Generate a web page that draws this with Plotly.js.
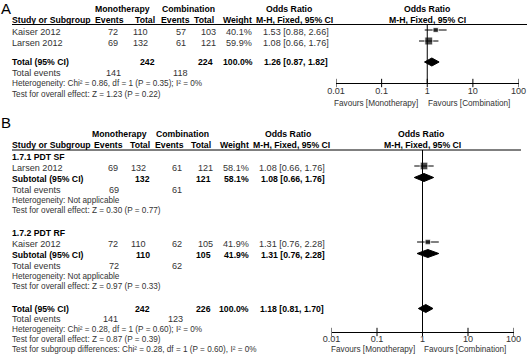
<!DOCTYPE html>
<html><head><meta charset="utf-8">
<script src="https://cdn.plot.ly/plotly-3.0.1.min.js"></script>
<style>html,body{margin:0;padding:0;background:#fff}#chart{width:529px;height:363px}</style>
</head><body><div id="chart"></div>
<script>
// ---------- data: panel A ----------
const studiesA = ['Kaiser 2012', 'Larsen 2012'];
const monoEventsA = [72, 69];
const monoTotalA = [110, 132];
const combEventsA = [57, 61];
const combTotalA = [103, 121];
const weightA = [40.1, 59.9];
const orA = [1.53, 1.08];
const ciLowA = [0.88, 0.66];
const ciHighA = [2.66, 1.76];
const totalNA = [242, 224];
const totalEventsA = [141, 118];
const pooledA = [1.26, 0.87, 1.82];      // OR, low, high
const statsA = ['Heterogeneity: Chi² = 0.86, df = 1 (P = 0.35); I² = 0%', 'Test for overall effect: Z = 1.23 (P = 0.22)'];

// ---------- data: panel B ----------
const subgroupsB = ['1.7.1 PDT SF', '1.7.2 PDT RF'];
const studiesB = ['Larsen 2012', 'Kaiser 2012'];
const monoEventsB = [69, 72];
const monoTotalB = [132, 110];
const combEventsB = [61, 62];
const combTotalB = [121, 105];
const weightB = [58.1, 41.9];
const orB = [1.08, 1.31];
const ciLowB = [0.66, 0.76];
const ciHighB = [1.76, 2.28];
const subOrB = [1.08, 1.31];
const subLowB = [0.66, 0.76];
const subHighB = [1.76, 2.28];
const subHetB = ['Heterogeneity: Not applicable', 'Heterogeneity: Not applicable'];
const subTestB = ['Test for overall effect: Z = 0.30 (P = 0.77)', 'Test for overall effect: Z = 0.97 (P = 0.33)'];
const totalNB = [242, 226];
const totalEventsB = [141, 123];
const pooledB = [1.18, 0.81, 1.70];
const statsB = ['Heterogeneity: Chi² = 0.28, df = 1 (P = 0.60); I² = 0%', 'Test for overall effect: Z = 0.87 (P = 0.39)', 'Test for subgroup differences: Chi² = 0.28, df = 1 (P = 0.60), I² = 0%'];

// ---------- axis ticks ----------
const tickVals = [0.01, 0.1, 1, 10, 100];
const tickLabels = ['0.01', '0.1', '1', '10', '100'];
const favourLabels = ['Favours [Monotherapy]', 'Favours [Combination]'];

// ---------- layout helpers ----------
const W = 529, H = 363;
const FONT = 'Liberation Sans, Arial, sans-serif';
const REG = 9.1, BOLD = 8.7, STAT = 8.2;
const ann = [];
function t(s, x, y, anchor, bold, size, color) {
  ann.push({text: bold ? '<b>' + s + '</b>' : s, xref: 'paper', yref: 'y', x: x / W, y: y,
    xanchor: anchor, yanchor: 'middle', showarrow: false, borderpad: 0, borderwidth: 0,
    font: {family: FONT, size: size || (bold ? BOLD : REG), color: color || (bold ? '#000' : '#333')}});
}
const f2 = v => v.toFixed(2);
const ci = (o, l, h) => f2(o) + ' [' + f2(l) + ', ' + f2(h) + ']';
const pct = w => w.toFixed(1) + '%';

const traces = [];
const shapes = [];
function hline(x0, x1, y) {
  shapes.push({type: 'line', xref: 'paper', yref: 'y', x0: x0 / W, x1: x1 / W, y0: y, y1: y, line: {color: '#000', width: 1}});
}
function studyMarks(xa, ors, lo, hi, w, ys) {
  traces.push({type: 'scatter', mode: 'markers', xaxis: xa, yaxis: 'y', x: ors, y: ys,
    marker: {symbol: 'square', color: '#000', size: w.map(v => v / 7.5)},
    error_x: {type: 'data', symmetric: false, array: ors.map((o, i) => hi[i] - o), arrayminus: ors.map((o, i) => o - lo[i]),
      width: 0, thickness: 1, color: '#000'}});
}
function diamond(xa, o, l, h, y) {
  traces.push({type: 'scatter', mode: 'lines', xaxis: xa, yaxis: 'y', x: [l, o, h, o, l], y: [y, y - 4, y, y + 4, y],
    fill: 'toself', fillcolor: '#000', line: {color: '#000', width: 1}});
}
function forestFrame(xa, yTop, yAxis, yLab) {
  traces.push({type: 'scatter', mode: 'lines', xaxis: xa, yaxis: 'y', x: [1, 1], y: [yTop, yAxis], line: {color: '#000', width: 1}});
  traces.push({type: 'scatter', mode: 'markers', xaxis: xa, yaxis: 'y', x: tickVals, y: tickVals.map(() => yAxis),
    marker: {symbol: 'line-ns', size: 6, line: {color: '#000', width: 1}}});
  traces.push({type: 'scatter', mode: 'text', xaxis: xa, yaxis: 'y', x: tickVals, y: tickVals.map(() => yLab),
    text: tickLabels, textposition: 'middle center', textfont: {family: FONT, size: REG, color: '#333'}, cliponaxis: false});
}

// ================= Panel A =================
t('A', 1, 8, 'left', false, 15, '#000');
t('Monotherapy', 122, 9, 'center', true);
t('Combination', 188, 9, 'center', true);
t('Odds Ratio', 289, 9, 'center', true);
t('Odds Ratio', 427, 9, 'center', true);
t('Study or Subgroup', 12, 20, 'left', true);
t('Events', 124, 20, 'right', true);
t('Total', 155, 20, 'right', true);
t('Events', 190, 20, 'right', true);
t('Total', 214, 20, 'right', true);
t('Weight', 252, 20, 'right', true);
t('M-H, Fixed, 95% CI', 294, 20, 'center', true);
t('M-H, Fixed, 95% CI', 427, 20, 'center', true);
hline(12, 527, 24.5);

const rowsA = [32, 43];
studiesA.forEach((s, i) => {
  const y = rowsA[i];
  t(s, 12, y, 'left');
  t(String(monoEventsA[i]), 118, y, 'right');
  t(String(monoTotalA[i]), 148, y, 'right');
  t(String(combEventsA[i]), 186, y, 'right');
  t(String(combTotalA[i]), 216, y, 'right');
  t(pct(weightA[i]), 252, y, 'right');
  t(ci(orA[i], ciLowA[i], ciHighA[i]), 329, y, 'right');
});
studyMarks('x', orA, ciLowA, ciHighA, weightA, rowsA.map(y => y - 2));
t('Total (95% CI)', 12, 62, 'left', true);
t(String(totalNA[0]), 155, 62, 'right', true);
t(String(totalNA[1]), 213, 62, 'right', true);
t(pct(100), 253, 62, 'right', true);
t(ci(pooledA[0], pooledA[1], pooledA[2]), 328, 62, 'right', true);
diamond('x', pooledA[0], pooledA[1], pooledA[2], 62);
t('Total events', 12, 73, 'left');
t(String(totalEventsA[0]), 113, 73, 'center');
t(String(totalEventsA[1]), 180, 73, 'center');
t(statsA[0], 12, 83.5, 'left', false, STAT);
t(statsA[1], 12, 94, 'left', false, STAT);
forestFrame('x', 24.5, 83, 92);
t(favourLabels[0], 418, 103, 'right', false, STAT);
t(favourLabels[1], 428, 103, 'left', false, STAT);

// ================= Panel B =================
t('B', 1, 122, 'left', false, 15, '#000');
t('Monotherapy', 119, 134, 'center', true);
t('Combination', 182, 134, 'center', true);
t('Odds Ratio', 288, 134, 'center', true);
t('Odds Ratio', 421, 134, 'center', true);
t('Study or Subgroup', 12, 145, 'left', true);
t('Events', 123, 145, 'right', true);
t('Total', 150, 145, 'right', true);
t('Events', 184, 145, 'right', true);
t('Total', 211, 145, 'right', true);
t('Weight', 249, 145, 'right', true);
t('M-H, Fixed, 95% CI', 291, 145, 'center', true);
t('M-H, Fixed, 95% CI', 422, 145, 'center', true);
hline(12, 521, 150);

const groupTopB = [157, 233];   // subgroup header rows
subgroupsB.forEach((g, i) => {
  const y0 = groupTopB[i];
  const ys = y0 + 11, ysub = y0 + 21.5, yev = y0 + 32.5, yhet = y0 + 43, ytest = y0 + 53.5;
  t(g, 12, y0, 'left', true);
  t(studiesB[i], 12, ys, 'left');
  t(String(monoEventsB[i]), 118, ys, 'right');
  t(String(monoTotalB[i]), 146, ys, 'right');
  t(String(combEventsB[i]), 182, ys, 'right');
  t(String(combTotalB[i]), 213, ys, 'right');
  t(pct(weightB[i]), 249, ys, 'right');
  t(ci(orB[i], ciLowB[i], ciHighB[i]), 325, ys, 'right');
  t('Subtotal (95% CI)', 12, ysub, 'left', true);
  t(String(monoTotalB[i]), 150, ysub, 'right', true);
  t(String(combTotalB[i]), 211, ysub, 'right', true);
  t(pct(weightB[i]), 249, ysub, 'right', true);
  t(ci(subOrB[i], subLowB[i], subHighB[i]), 325, ysub, 'right', true);
  diamond('x2', subOrB[i], subLowB[i], subHighB[i], ysub - 1);
  t('Total events', 12, yev, 'left');
  t(String(monoEventsB[i]), 114, yev, 'center');
  t(String(combEventsB[i]), 177, yev, 'center');
  t(subHetB[i], 12, yhet, 'left', false, STAT);
  t(subTestB[i], 12, ytest, 'left', false, STAT);
});
studyMarks('x2', orB, ciLowB, ciHighB, weightB, groupTopB.map(y => y + 9));

t('Total (95% CI)', 12, 308.5, 'left', true);
t(String(totalNB[0]), 150, 308.5, 'right', true);
t(String(totalNB[1]), 211, 308.5, 'right', true);
t(pct(100), 249, 308.5, 'right', true);
t(ci(pooledB[0], pooledB[1], pooledB[2]), 324, 308.5, 'right', true);
diamond('x2', pooledB[0], pooledB[1], pooledB[2], 308.5);
t('Total events', 12, 319, 'left');
t(String(totalEventsB[0]), 110, 319, 'center');
t(String(totalEventsB[1]), 175, 319, 'center');
t(statsB[0], 12, 329, 'left', false, STAT);
t(statsB[1], 12, 339, 'left', false, STAT);
t(statsB[2], 12, 349.5, 'left', false, STAT);
forestFrame('x2', 150, 332, 340);
t(favourLabels[0], 415, 349, 'right', false, STAT);
t(favourLabels[1], 424, 349, 'left', false, STAT);

const axisCommon = {type: 'log', range: [-2, 2], anchor: 'free', showline: true, linecolor: '#000', linewidth: 1,
  ticks: '', showticklabels: false, showgrid: false, zeroline: false, fixedrange: true};

const layout = {
  width: W, height: H, margin: {l: 0, r: 0, t: 0, b: 0},
  paper_bgcolor: '#fff', plot_bgcolor: 'rgba(0,0,0,0)', showlegend: false, hovermode: false,
  xaxis: Object.assign({}, axisCommon, {domain: [336 / W, 518.5 / W], position: 1 - 83 / H}),
  xaxis2: Object.assign({}, axisCommon, {domain: [331.5 / W, 513.5 / W], position: 1 - 332 / H}),
  yaxis: {domain: [0, 1], range: [H, 0], visible: false, showgrid: false, zeroline: false, fixedrange: true},
  annotations: ann, shapes: shapes
};
Plotly.newPlot('chart', traces, layout, {staticPlot: true, displayModeBar: false});
</script></body></html>
